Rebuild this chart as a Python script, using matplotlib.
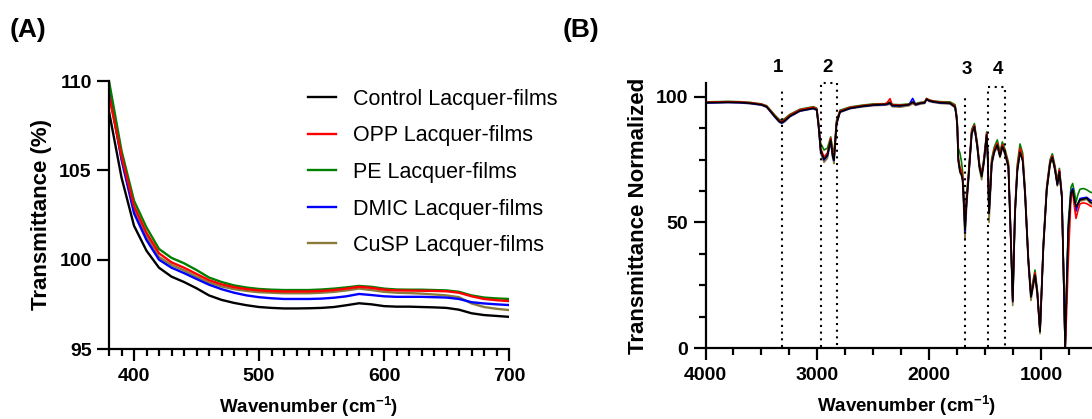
import matplotlib
matplotlib.use("Agg")
import matplotlib.pyplot as plt
from matplotlib.ticker import MultipleLocator

plt.rcParams["font.family"] = ["Liberation Sans", "DejaVu Sans"]
plt.rcParams["mathtext.fontset"] = "custom"
plt.rcParams["mathtext.rm"] = "Liberation Sans:bold"
plt.rcParams["mathtext.default"] = "regular"

# ---- panel A: UV-vis transmittance ----
wl = [380, 390, 400, 410, 420, 430, 440, 450, 460, 470, 480, 490, 500, 510, 520, 530,
      540, 550, 560, 570, 580, 590, 600, 610, 620, 630, 640, 650, 660, 670, 680, 690, 700]

control_a = [108.3, 104.6, 101.9, 100.5, 99.55, 99.05, 98.75, 98.4, 98.0, 97.75, 97.58,
             97.45, 97.35, 97.3, 97.27, 97.27, 97.28, 97.3, 97.35, 97.45, 97.56, 97.5,
             97.4, 97.37, 97.37, 97.35, 97.33, 97.3, 97.2, 97.0, 96.9, 96.85, 96.8]
opp_a = [109.2, 105.8, 103.0, 101.5, 100.36, 99.85, 99.55, 99.2, 98.85, 98.62, 98.46,
         98.35, 98.28, 98.24, 98.22, 98.22, 98.22, 98.25, 98.3, 98.38, 98.48, 98.42,
         98.32, 98.28, 98.27, 98.26, 98.25, 98.23, 98.15, 97.95, 97.8, 97.73, 97.68]
pe_a = [110.0, 106.1, 103.3, 101.8, 100.6, 100.1, 99.8, 99.42, 99.0, 98.75, 98.56,
        98.44, 98.36, 98.32, 98.3, 98.3, 98.3, 98.33, 98.38, 98.45, 98.53, 98.48,
        98.38, 98.33, 98.32, 98.32, 98.3, 98.28, 98.2, 98.0, 97.88, 97.83, 97.8]
dmic_a = [109.6, 105.6, 102.6, 101.1, 100.0, 99.55, 99.25, 98.92, 98.6, 98.35, 98.15,
          98.0, 97.9, 97.84, 97.8, 97.8, 97.8, 97.82, 97.87, 97.95, 98.08, 98.02,
          97.95, 97.92, 97.92, 97.92, 97.9, 97.88, 97.8, 97.62, 97.55, 97.5, 97.46]
cusp_a = [109.3, 105.7, 102.8, 101.3, 100.15, 99.7, 99.4, 99.05, 98.72, 98.5, 98.35,
          98.25, 98.18, 98.15, 98.12, 98.12, 98.12, 98.15, 98.2, 98.28, 98.38, 98.3,
          98.2, 98.15, 98.13, 98.1, 98.05, 98.0, 97.9, 97.55, 97.35, 97.25, 97.18]

# ---- panel B: FTIR spectra ----
wn = [4000, 3900, 3800, 3700, 3600, 3500, 3453, 3378, 3340, 3318,
      3290, 3244, 3155, 3036, 3005, 2988, 2970, 2940, 2910, 2880,
      2862, 2851, 2828, 2797, 2708, 2600, 2499, 2400, 2379, 2350,
      2330, 2261, 2180, 2147, 2120, 2081, 2040, 2022, 2000, 1962,
      1900, 1813, 1768, 1755, 1748, 1739, 1724, 1710, 1700, 1690,
      1679, 1665, 1649, 1619, 1595, 1569, 1550, 1530, 1510, 1485,
      1475, 1464, 1452, 1440, 1417, 1390, 1366, 1345, 1321, 1291,
      1267, 1252, 1232, 1211, 1187, 1163, 1142, 1113, 1089, 1070,
      1053, 1032, 1008, 978, 948, 918, 898, 874, 853, 835,
      813, 795, 783, 772, 755, 731, 716, 700, 686, 670,
      651, 620, 591, 555, 520, 480]

control_b = [97.6, 97.7, 97.8, 97.7, 97.4, 96.8, 96.0, 92.0, 90.2, 89.7,
             90.5, 92.3, 94.4, 95.4, 94.8, 88.1, 78.8, 75.1, 76.8, 82.8,
             76.4, 74.8, 89.4, 94.0, 95.4, 96.2, 96.7, 96.9, 97.0, 97.6,
             96.5, 96.4, 96.8, 97.8, 96.9, 97.4, 97.6, 99.0, 98.4, 98.0,
             97.6, 97.4, 96.0, 92.0, 88.1, 75.0, 70.2, 69.0, 66.9, 58.0,
             47.0, 58.0, 66.9, 85.4, 88.1, 80.1, 72.0, 68.2, 74.0, 84.8,
             75.0, 53.6, 63.0, 73.5, 78.1, 80.8, 76.2, 80.2, 77.5, 72.2,
             40.4, 18.5, 53.6, 70.6, 77.9, 74.6, 61.4, 35.0, 20.4, 25.0,
             29.1, 21.8, 6.6, 40.4, 62.9, 73.5, 75.9, 70.9, 64.9, 70.2,
             60.3, 25.0, 0.0, 20.0, 47.0, 61.6, 62.9, 59.0, 56.3, 57.5,
             59.0, 59.3, 59.7, 58.0, 57.5, 57.0]
pe_b = [97.9, 98.0, 98.1, 98.0, 97.7, 97.1, 96.4, 92.6, 90.9, 90.6,
        91.3, 93.0, 95.0, 96.0, 95.4, 89.5, 81.5, 78.8, 79.5, 84.0,
        79.0, 77.5, 90.5, 94.6, 95.9, 96.6, 97.1, 97.2, 97.3, 97.9,
        96.9, 96.8, 97.1, 97.9, 97.2, 97.7, 97.9, 99.3, 98.7, 98.3,
        98.0, 97.9, 96.8, 93.0, 89.5, 79.5, 77.5, 74.0, 70.0, 61.0,
        50.0, 61.0, 69.0, 87.0, 89.3, 81.5, 73.5, 69.5, 75.5, 86.0,
        77.0, 56.0, 65.5, 75.5, 80.0, 82.8, 78.0, 82.0, 79.0, 74.0,
        42.0, 20.0, 55.5, 73.0, 81.2, 77.5, 63.5, 36.5, 22.0, 27.0,
        31.1, 23.0, 7.5, 42.0, 64.5, 75.0, 77.3, 72.5, 66.5, 71.5,
        61.5, 26.0, 0.5, 22.0, 50.0, 64.0, 65.5, 62.0, 58.0, 61.0,
        63.2, 63.5, 63.0, 62.0, 61.5, 61.0]
opp_b = [97.8, 97.9, 98.0, 97.9, 97.6, 97.0, 96.2, 92.3, 90.5, 90.1,
         90.9, 92.7, 94.8, 95.8, 95.1, 88.8, 79.5, 76.0, 77.6, 83.5,
         77.2, 75.5, 89.9, 94.3, 95.7, 96.4, 96.9, 97.1, 97.4, 99.2,
         96.8, 96.6, 96.9, 97.6, 97.0, 97.5, 97.8, 99.2, 98.6, 98.2,
         97.8, 97.6, 96.4, 92.5, 88.8, 76.0, 72.0, 70.5, 68.0, 59.0,
         48.5, 59.0, 67.8, 86.3, 88.6, 80.8, 72.8, 68.8, 74.6, 85.4,
         75.8, 55.0, 64.0, 74.3, 79.0, 81.5, 77.0, 81.0, 78.2, 73.0,
         41.2, 19.5, 54.5, 72.0, 79.5, 76.0, 62.3, 35.8, 21.0, 26.0,
         30.0, 22.4, 7.0, 41.0, 63.6, 74.2, 76.5, 71.5, 65.6, 71.0,
         60.8, 25.5, 0.0, 12.0, 35.0, 60.0, 62.0, 56.0, 51.6, 54.5,
         57.4, 57.8, 57.5, 56.5, 56.0, 55.5]
dmic_b = [97.5, 97.6, 97.7, 97.6, 97.3, 96.7, 95.9, 91.9, 90.0, 89.5,
          90.3, 92.2, 94.3, 95.3, 94.7, 88.0, 78.5, 74.8, 76.5, 82.5,
          76.2, 74.6, 89.2, 93.9, 95.3, 96.1, 96.6, 96.8, 96.9, 97.4,
          96.4, 96.3, 96.8, 99.3, 96.8, 97.3, 97.5, 99.1, 98.3, 97.9,
          97.5, 97.3, 95.9, 92.0, 88.0, 74.8, 71.0, 69.4, 67.2, 58.0,
          46.5, 58.0, 67.0, 85.6, 88.3, 80.3, 72.4, 69.0, 74.2, 85.0,
          75.2, 54.0, 63.3, 73.7, 78.4, 81.0, 76.5, 80.5, 77.8, 72.5,
          40.8, 19.0, 54.0, 71.2, 78.5, 75.0, 61.8, 35.3, 20.6, 25.4,
          29.5, 22.0, 6.8, 40.6, 63.2, 73.8, 76.2, 71.2, 65.2, 70.5,
          60.5, 25.2, 0.0, 20.0, 47.5, 62.0, 63.5, 58.0, 54.5, 57.0,
          59.5, 59.8, 60.0, 58.8, 58.3, 57.8]
cusp_b = [97.4, 97.5, 97.6, 97.5, 97.2, 96.6, 95.8, 91.7, 89.8, 89.3,
          90.1, 92.0, 94.2, 95.2, 94.5, 87.5, 77.5, 73.9, 75.5, 82.0,
          75.5, 73.4, 88.8, 93.7, 95.2, 95.9, 96.4, 96.6, 96.7, 97.0,
          96.0, 95.8, 96.4, 97.2, 96.5, 97.0, 97.3, 98.8, 98.1, 97.7,
          97.3, 97.1, 95.6, 91.6, 87.6, 74.0, 69.8, 68.5, 66.0, 55.0,
          43.0, 56.0, 66.0, 85.0, 87.8, 79.6, 71.2, 67.0, 73.2, 84.3,
          73.5, 50.0, 61.5, 72.8, 77.6, 80.0, 75.8, 79.6, 77.0, 71.5,
          39.0, 17.0, 52.5, 70.0, 78.0, 74.2, 60.6, 33.8, 19.0, 24.2,
          28.5, 21.0, 5.8, 39.5, 62.4, 73.0, 75.5, 70.5, 64.5, 69.8,
          59.8, 24.5, 0.0, 19.5, 46.5, 61.2, 62.5, 58.5, 55.5, 57.0,
          58.5, 58.8, 59.2, 57.5, 57.0, 56.5]

labels = ["Control Lacquer-films", "OPP Lacquer-films", "PE Lacquer-films",
          "DMIC Lacquer-films", "CuSP Lacquer-films"]
colors = ["#000000", "#ff0000", "#008000", "#0000ff", "#8c7a3c"]

# band markers: single lines and bracketed ranges
band_lines = [3318, 1676]
band_brackets = [(2965, 2827), (1470, 1321)]
band_tops = [102.7, 100.7]
bracket_tops = [105.6, 104.0]
band_nums = ["1", "2", "3", "4"]
band_num_x = [3352, 2905, 1664, 1384]
band_num_y = [111.4, 111.6, 110.6, 110.6]


def style_axis(ax):
    for s in ["top", "right"]:
        ax.spines[s].set_visible(False)
    for s in ["left", "bottom"]:
        ax.spines[s].set_linewidth(1.6)
    ax.tick_params(which="major", length=8.5, width=1.6, labelsize=14, pad=4)
    ax.tick_params(which="minor", length=4.8, width=1.6)
    ax.tick_params(axis="x", which="major", pad=5)
    for lab in ax.get_xticklabels() + ax.get_yticklabels():
        lab.set_fontweight("bold")


fig = plt.figure(figsize=(10.92, 4.19), dpi=100)

# panel A
axa = fig.add_axes([109 / 1092, 1 - 349 / 419, 400 / 1092, 268 / 419])
series_a = [control_a, opp_a, pe_a, dmic_a, cusp_a]
handles = []
for k in [4, 3, 2, 1, 0]:
    (ln,) = axa.plot(wl, series_a[k], color=colors[k], lw=1.7, label=labels[k])
    handles.append(ln)
handles = handles[::-1]
axa.set_xlim(380, 700)
axa.set_ylim(95, 110)
axa.set_xticks([400, 500, 600, 700])
axa.xaxis.set_minor_locator(MultipleLocator(10))
axa.set_yticks([95, 100, 105, 110])
style_axis(axa)
axa.set_ylabel("Transmittance (%)", fontsize=16, fontweight="bold", labelpad=5)
axa.set_xlabel("Wavenumber (cm$^{-1}$)", fontsize=13.5, fontweight="bold", labelpad=7)
fig.legend(handles, labels, loc="upper left", bbox_to_anchor=(308 / 1092, 1 - 89 / 419),
           frameon=False, fontsize=15.5, handlelength=1.3, handletextpad=0.8,
           labelspacing=0.72, borderpad=0, borderaxespad=0)

# panel B
axb = fig.add_axes([705.5 / 1092, 1 - 348.3 / 419, 402.5 / 1092, 265 / 419])
series_b = [cusp_b, pe_b, dmic_b, opp_b, control_b]
colors_b = [colors[4], colors[2], colors[3], colors[1], colors[0]]
for vals, c in zip(series_b, colors_b):
    axb.plot(wn, vals, color=c, lw=1.2)
axb.set_xlim(4000, 400)
axb.set_ylim(0, 105.3)
axb.set_xticks([4000, 3000, 2000, 1000])
axb.xaxis.set_minor_locator(MultipleLocator(250))
axb.set_yticks([0, 50, 100])
axb.yaxis.set_minor_locator(MultipleLocator(12.5))
style_axis(axb)
axb.set_ylabel("Transmittance Normalized", fontsize=16, fontweight="bold", labelpad=5)
axb.set_xlabel("Wavenumber (cm$^{-1}$)", fontsize=13.5, fontweight="bold", labelpad=7)

dots = dict(color="black", lw=1.5, linestyle=(0, (1, 2.2)), clip_on=False)
for x, top in zip(band_lines, band_tops):
    axb.plot([x, x], [0.5, top], **dots)
for (x1, x2), top in zip(band_brackets, bracket_tops):
    axb.plot([x1, x1, x2, x2], [0.5, top, top, 0.5], **dots)
for t, x, y in zip(band_nums, band_num_x, band_num_y):
    axb.text(x, y, t, ha="center", va="center", fontsize=13.5, fontweight="bold",
             clip_on=False)

fig.text(10 / 1092, 1 - 30 / 419, "(A)", fontsize=19, fontweight="bold", va="center")
fig.text(563 / 1092, 1 - 30 / 419, "(B)", fontsize=19, fontweight="bold", va="center")

fig.savefig("out.png", dpi=100)
